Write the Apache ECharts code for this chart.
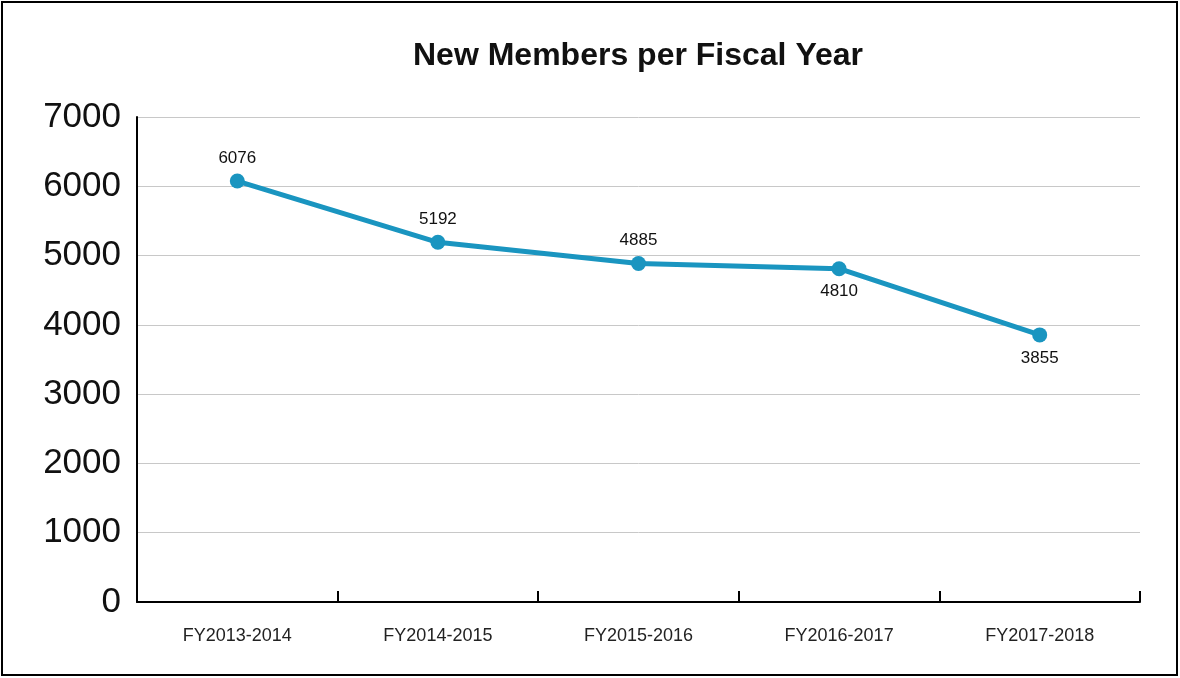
<!DOCTYPE html>
<html>
<head>
<meta charset="utf-8">
<script src="https://cdn.jsdelivr.net/npm/echarts@6/dist/echarts.min.js"></script>
<style>
html,body{margin:0;padding:0;background:#fff;}
#c{width:1180px;height:678px;}
</style>
</head>
<body>
<div id="c"></div>
<script>
const categories = ['FY2013-2014','FY2014-2015','FY2015-2016','FY2016-2017','FY2017-2018'];
const newMembers = [6076, 5192, 4885, 4810, 3855];
const labelBelow = [false, false, false, true, true];
const yTicks = [0, 1000, 2000, 3000, 4000, 5000, 6000, 7000];

const chart = echarts.init(document.getElementById('c'));
const font = '"Liberation Sans", Arial, sans-serif';
chart.setOption({
  backgroundColor: '#fff',
  animation: false,
  title: {
    text: 'New Members per Fiscal Year',
    left: 633, textAlign: 'center',
    top: 35,
    textStyle: {fontFamily: font, fontSize: 32, fontWeight: 'bold', color: '#111'}
  },
  graphic: [{
    type: 'rect', shape: {x: 2, y: 2, width: 1175, height: 673},
    style: {fill: 'none', stroke: '#000', lineWidth: 2}, silent: true
  }],
  grid: {left: 137, right: 40, top: 117, bottom: 76},
  xAxis: {
    type: 'category',
    data: categories,
    boundaryGap: true,
    axisLine: {lineStyle: {color: '#000', width: 2}},
    axisTick: {show: true, inside: true, length: 11, lineStyle: {color: '#000', width: 2}},
    axisLabel: {fontFamily: font, fontSize: 18, color: '#222', margin: 25},
    splitLine: {show: false}
  },
  yAxis: {
    type: 'value',
    min: yTicks[0], max: yTicks[yTicks.length - 1], interval: 1000,
    axisLine: {show: true, lineStyle: {color: '#000', width: 2}},
    axisTick: {show: false},
    axisLabel: {fontFamily: font, fontSize: 35, color: '#111', margin: 16, formatter: v => String(v)},
    splitLine: {lineStyle: {color: '#c8c8c8', width: 1}}
  },
  series: [{
    type: 'line',
    data: newMembers.map((v, i) => ({
      value: v,
      label: {position: labelBelow[i] ? 'bottom' : 'top'}
    })),
    symbol: 'circle',
    symbolSize: 15,
    lineStyle: {color: '#1a95c0', width: 5},
    itemStyle: {color: '#1a95c0'},
    label: {show: true, fontFamily: font, fontSize: 17, color: '#111', distance: 7}
  }]
});
</script>
</body>
</html>
